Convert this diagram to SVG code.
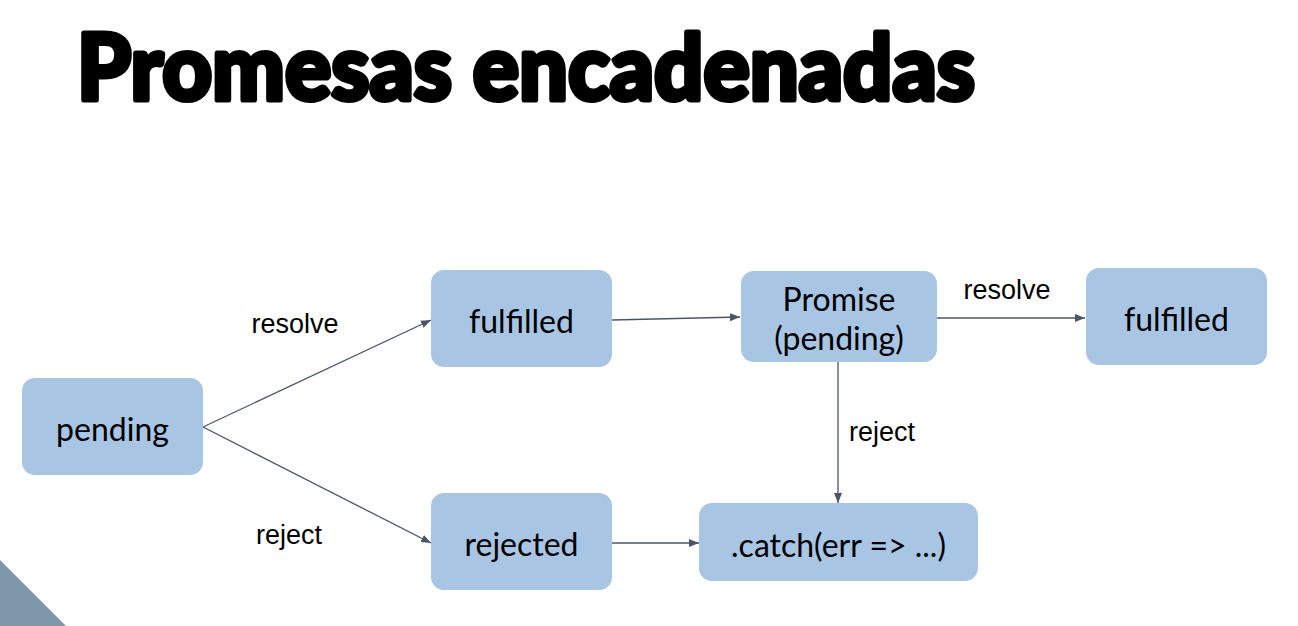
<svg xmlns="http://www.w3.org/2000/svg" width="1298" height="626" viewBox="0 0 1298 626">
<style>
.node rect{fill:#a8c5e3;}
.node text{font-family:Lato,"Liberation Sans",sans-serif;font-size:32px;fill:#000;text-anchor:middle;dominant-baseline:central;}
.lbl{font-family:"Liberation Sans",Arial,sans-serif;font-size:27px;fill:#000;text-anchor:middle;dominant-baseline:central;}
.edge{stroke:#4b5568;stroke-width:1.3;fill:none;marker-end:url(#ah);}
</style>
<defs>
<marker id="ah" viewBox="0 0 10 10" refX="10" refY="5" markerWidth="10" markerHeight="10" markerUnits="userSpaceOnUse" orient="auto">
<path d="M0,1 L10,5 L0,9 z" fill="#4b5568"/>
</marker>
</defs>
<rect width="1298" height="626" fill="#fff"/>
<polygon points="0,560 66,626 0,626" fill="#7f97a9"/>
<text x="77" y="100" font-family="Lato,'Liberation Sans',sans-serif" font-weight="900" font-size="92" stroke="#000" stroke-width="5" stroke-linejoin="round" textLength="898" lengthAdjust="spacingAndGlyphs">Promesas encadenadas</text>
<g id="connectors">
<line class="edge" x1="203" y1="427" x2="431" y2="320"/>
<line class="edge" x1="203" y1="427" x2="431" y2="543"/>
<line class="edge" x1="612" y1="320" x2="740" y2="317"/>
<line class="edge" x1="937" y1="318" x2="1085" y2="318"/>
<line class="edge" x1="838" y1="362" x2="838" y2="503"/>
<line class="edge" x1="612" y1="543" x2="699" y2="543"/>
<text class="lbl" x="295" y="324">resolve</text>
<text class="lbl" x="289" y="535">reject</text>
<text class="lbl" x="1007" y="290">resolve</text>
<text class="lbl" x="882" y="432">reject</text>
</g>
<g id="pending" class="node"><rect x="22" y="378" width="181" height="97" rx="13"/><text x="112.5" y="428">pending</text></g>
<g id="fulfilled1" class="node"><rect x="431" y="270" width="181" height="97" rx="13"/><text x="521.5" y="320">fulfilled</text></g>
<g id="promise" class="node"><rect x="741" y="271" width="196" height="91" rx="13"/><text x="839" y="298">Promise</text><text x="839" y="337">(pending)</text></g>
<g id="fulfilled2" class="node"><rect x="1086" y="268" width="181" height="97" rx="13"/><text x="1176.5" y="318">fulfilled</text></g>
<g id="rejected" class="node"><rect x="431" y="493" width="181" height="97" rx="13"/><text x="521.5" y="543">rejected</text></g>
<g id="catch" class="node"><rect x="699" y="503" width="279" height="78" rx="13"/><text x="838.5" y="544">.catch(err =&gt; ...)</text></g>
</svg>
